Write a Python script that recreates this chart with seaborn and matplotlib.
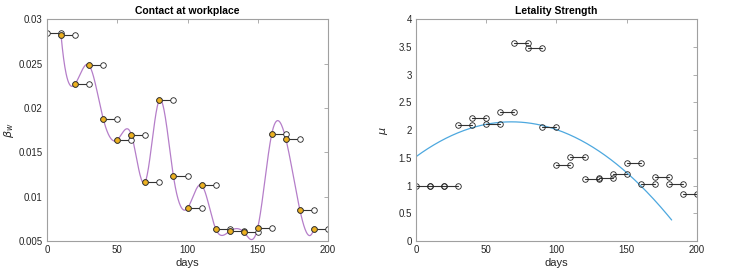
import numpy as np
import pandas as pd
import seaborn as sns
import matplotlib
matplotlib.use("Agg")
import matplotlib.pyplot as plt

# left panel: contact at workplace, one value per 10-day window
work_days = [0, 10, 20, 30, 40, 50, 60, 70, 80, 90, 100, 110, 120, 130, 140, 150, 160, 170, 180, 190]
work_beta = [0.0285, 0.0282, 0.0227, 0.0248, 0.0188, 0.0164, 0.0170, 0.0117, 0.0209, 0.0123,
             0.0087, 0.0113, 0.0064, 0.0061, 0.0060, 0.0065, 0.0171, 0.0165, 0.0085, 0.0064]

# right panel: letality strength per 10-day window
let_days = [0, 10, 20, 30, 40, 50, 60, 70, 80, 90, 100, 110, 120, 130, 140, 150, 160, 170, 180, 190]
let_mu = [1.0, 1.0, 1.0, 2.1, 2.22, 2.11, 2.33, 3.57, 3.48, 2.06,
          1.38, 1.52, 1.12, 1.13, 1.21, 1.41, 1.02, 1.16, 1.03, 0.85]

# quadratic trend for mu: value at day 0, vertex day, vertex value, last day
mu_start = 1.52
mu_peak_day = 68
mu_peak = 2.15
mu_end_day = 182

window = 10

ORANGE = "#EDB120"
PURPLE = "#B57EC9"
BLUE = "#4DA8DF"
SPINE = "#A0A0A0"
TEXT = "#262626"


def spline_not_a_knot(x, y, xs):
    x = np.asarray(x, float)
    y = np.asarray(y, float)
    n = len(x)
    h = np.diff(x)
    A = np.zeros((n, n))
    r = np.zeros(n)
    for i in range(1, n - 1):
        A[i, i - 1] = h[i - 1]
        A[i, i] = 2 * (h[i - 1] + h[i])
        A[i, i + 1] = h[i]
        r[i] = 6 * ((y[i + 1] - y[i]) / h[i] - (y[i] - y[i - 1]) / h[i - 1])
    A[0, 0], A[0, 1], A[0, 2] = h[1], -(h[0] + h[1]), h[0]
    A[-1, -3], A[-1, -2], A[-1, -1] = h[-1], -(h[-2] + h[-1]), h[-2]
    M = np.linalg.solve(A, r)
    idx = np.clip(np.searchsorted(x, xs) - 1, 0, n - 2)
    x0, x1 = x[idx], x[idx + 1]
    hh = x1 - x0
    return (M[idx] * (x1 - xs) ** 3 / (6 * hh) + M[idx + 1] * (xs - x0) ** 3 / (6 * hh)
            + (y[idx] / hh - M[idx] * hh / 6) * (x1 - xs)
            + (y[idx + 1] / hh - M[idx + 1] * hh / 6) * (xs - x0))


def segments_frame(days, vals):
    rows = []
    for k, (d, v) in enumerate(zip(days, vals)):
        rows.append({"seg": k, "day": d, "val": v})
        rows.append({"seg": k, "day": d + window, "val": v})
    return pd.DataFrame(rows)


def style_axes(ax):
    for s in ax.spines.values():
        s.set_visible(True)
        s.set_color(SPINE)
        s.set_linewidth(0.8)
    ax.tick_params(direction="in", length=3, width=0.6, color=SPINE, labelcolor=TEXT,
                   labelsize=7, top=True, right=True, pad=3)
    ax.grid(False)


sns.set_theme(style="white")
plt.rcParams["font.family"] = ["Liberation Sans", "DejaVu Sans"]

fig = plt.figure(figsize=(7.31, 2.71), dpi=100)
ax1 = fig.add_axes([0.0643, 0.1107, 0.3844, 0.818])
ax2 = fig.add_axes([0.569, 0.1107, 0.3844, 0.818])

# ---- left panel
seg_w = segments_frame(work_days, work_beta)
xs = np.linspace(work_days[1], work_days[-1], 600)
curve = pd.DataFrame({"day": xs, "val": spline_not_a_knot(work_days[1:], work_beta[1:], xs)})
sns.lineplot(data=curve, x="day", y="val", color=PURPLE, linewidth=0.9, ax=ax1, zorder=1)
sns.lineplot(data=seg_w, x="day", y="val", units="seg", estimator=None, color="#333333",
             linewidth=0.8, marker="o", markersize=4, markerfacecolor="white",
             markeredgecolor="#222222", markeredgewidth=0.6, ax=ax1, zorder=2)
pts = pd.DataFrame({"day": work_days[1:], "val": work_beta[1:]})
sns.scatterplot(data=pts, x="day", y="val", color=ORANGE, edgecolor="#333333", linewidth=0.6,
                s=16, ax=ax1, zorder=3)
ax1.set_xlim(0, 200)
ax1.set_ylim(0.005, 0.03)
ax1.set_xticks([0, 50, 100, 150, 200])
ax1.set_yticks([0.005, 0.01, 0.015, 0.02, 0.025, 0.03])
ax1.set_yticklabels(["0.005", "0.01", "0.015", "0.02", "0.025", "0.03"])
ax1.set_xlabel("days", fontsize=8, color=TEXT, labelpad=2)
ax1.set_ylabel(r"$\beta_w$", fontsize=8, color=TEXT, labelpad=2)
ax1.set_title("Contact at workplace", fontsize=7.5, fontweight="bold", color="black", pad=4)
style_axes(ax1)

# ---- right panel
seg_l = segments_frame(let_days, let_mu)
xq = np.linspace(0, mu_end_day, 300)
k = (mu_start - mu_peak) / mu_peak_day ** 2
trend = pd.DataFrame({"day": xq, "val": mu_peak + k * (xq - mu_peak_day) ** 2})
sns.lineplot(data=trend, x="day", y="val", color=BLUE, linewidth=0.9, ax=ax2, zorder=1)
sns.lineplot(data=seg_l, x="day", y="val", units="seg", estimator=None, color="#333333",
             linewidth=0.8, marker="o", markersize=4, markerfacecolor="none",
             markeredgecolor="#222222", markeredgewidth=0.6, ax=ax2, zorder=2)
ax2.set_xlim(0, 200)
ax2.set_ylim(0, 4)
ax2.set_xticks([0, 50, 100, 150, 200])
ax2.set_yticks(np.arange(0, 4.01, 0.5))
ax2.set_yticklabels(["0", "0.5", "1", "1.5", "2", "2.5", "3", "3.5", "4"])
ax2.set_xlabel("days", fontsize=8, color=TEXT, labelpad=2)
ax2.set_ylabel(r"$\mu$", fontsize=8, color=TEXT, labelpad=6)
ax2.set_title("Letality Strength", fontsize=7.5, fontweight="bold", color="black", pad=4)
style_axes(ax2)

fig.savefig("out.png", dpi=100)
